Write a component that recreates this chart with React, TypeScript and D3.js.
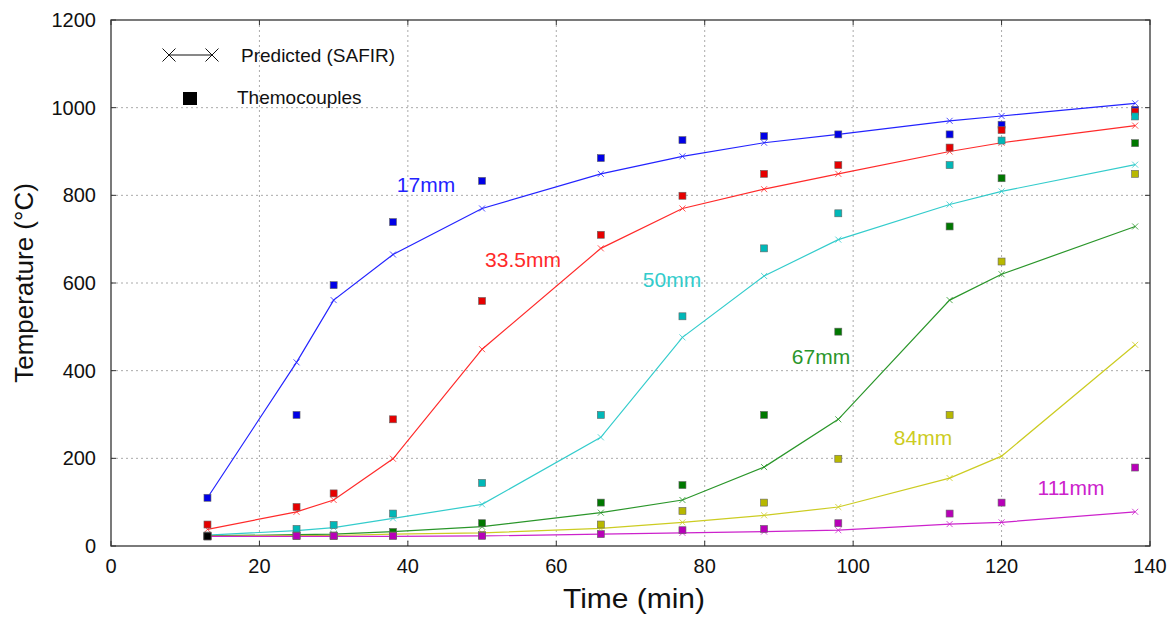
import React from "react";
import * as d3 from "d3";

const times = [13, 25, 30, 38, 50, 66, 77, 88, 98, 113, 120, 138];

const labels = ["17mm", "33.5mm", "50mm", "67mm", "84mm", "111mm"];

const predicted17 = [110, 419, 561, 665, 770, 849, 889, 920, 939, 970, 981, 1010];
const predicted33 = [38, 78, 105, 199, 449, 679, 770, 814, 849, 900, 920, 959];
const predicted50 = [25, 35, 42, 63, 95, 248, 476, 616, 699, 779, 809, 870];
const predicted67 = [23, 26, 27, 33, 44, 76, 105, 180, 289, 561, 620, 729];
const predicted84 = [22, 24, 24, 27, 30, 40, 54, 70, 89, 155, 205, 459];
const predicted111 = [22, 22, 22, 22, 23, 27, 30, 33, 36, 50, 54, 78];

const measured17 = [110, 299, 595, 739, 833, 885, 926, 935, 939, 939, 961, 995];
const measured33 = [49, 89, 120, 289, 559, 710, 799, 849, 869, 909, 949, 991];
const measured50 = [24, 39, 48, 74, 144, 299, 524, 679, 759, 869, 925, 980];
const measured67 = [23, 24, 24, 32, 52, 99, 139, 299, 489, 729, 839, 919];
const measured84 = [22, 23, 23, 24, 25, 49, 80, 99, 199, 299, 649, 849];
const measured111 = [22, 23, 23, 23, 23, 27, 36, 39, 52, 74, 99, 179];

const ambientTime = [13];
const ambientMeasured = [22];

const xTicks = [0, 20, 40, 60, 80, 100, 120, 140];
const yTicks = [0, 200, 400, 600, 800, 1000, 1200];

const lineColors = ["#2323ff", "#ff2a2a", "#33cccc", "#2a962a", "#cccc22", "#cc22cc"];
const squareColors = ["#0000e6", "#e60000", "#00b8b8", "#007800", "#b8b800", "#b800b8"];

const predictedSeries = [predicted17, predicted33, predicted50, predicted67, predicted84, predicted111];
const measuredSeries = [measured17, measured33, measured50, measured67, measured84, measured111];

const labelPos: [number, number][] = [
  [426, 192],
  [523, 267],
  [672, 287],
  [821, 364],
  [923, 445],
  [1071, 495],
];

const W = 1174;
const H = 619;
const left = 111;
const right = 1150;
const top = 20;
const bottom = 546;

export default function App() {
  const x = d3.scaleLinear().domain([0, 140]).range([left, right]);
  const y = d3.scaleLinear().domain([0, 1200]).range([bottom, top]);
  const line = d3
    .line<number>()
    .x((_, i) => x(times[i]))
    .y((d) => y(d));
  const font = "'Liberation Sans', Arial, sans-serif";
  const cross = (cx: number, cy: number, s: number, color: string, key: string, w = 1) => (
    <path
      key={key}
      d={`M${cx - s},${cy - s}L${cx + s},${cy + s}M${cx - s},${cy + s}L${cx + s},${cy - s}`}
      stroke={color}
      strokeWidth={w}
      fill="none"
    />
  );
  const sq = 7;
  return (
    <svg
      width={W}
      height={H}
      style={{ position: "absolute", left: 0, top: 0, background: "#fff" }}
      fontFamily={font}
    >
      {/* grid */}
      {xTicks.slice(1, -1).map((t) => (
        <line
          key={"gx" + t}
          x1={x(t)}
          x2={x(t)}
          y1={top}
          y2={bottom}
          stroke="#aaa"
          strokeWidth={1}
          strokeDasharray="2,3"
        />
      ))}
      {yTicks.slice(1, -1).map((t) => (
        <line
          key={"gy" + t}
          x1={left}
          x2={right}
          y1={y(t)}
          y2={y(t)}
          stroke="#aaa"
          strokeWidth={1}
          strokeDasharray="2,3"
        />
      ))}
      {/* ticks */}
      {xTicks.map((t) => (
        <g key={"tx" + t}>
          <line x1={x(t)} x2={x(t)} y1={bottom} y2={bottom - 5} stroke="#333" />
          <line x1={x(t)} x2={x(t)} y1={top} y2={top + 5} stroke="#333" />
          <text x={x(t)} y={bottom + 27} textAnchor="middle" fontSize={20} fill="#111">
            {t}
          </text>
        </g>
      ))}
      {yTicks.map((t) => (
        <g key={"ty" + t}>
          <line x1={left} x2={left + 5} y1={y(t)} y2={y(t)} stroke="#333" />
          <line x1={right} x2={right - 5} y1={y(t)} y2={y(t)} stroke="#333" />
          <text x={96} y={y(t) + 7} textAnchor="end" fontSize={20} fill="#111">
            {t}
          </text>
        </g>
      ))}
      <rect x={left} y={top} width={right - left} height={bottom - top} fill="none" stroke="#333" strokeWidth={1.3} />

      {/* predicted lines */}
      {predictedSeries.map((s, i) => (
        <g key={"p" + i}>
          <path d={line(s) || ""} fill="none" stroke={lineColors[i]} strokeWidth={1.2} />
          {s.map((v, j) => cross(x(times[j]), y(v), 3, lineColors[i], "c" + i + "-" + j, 0.8))}
        </g>
      ))}
      {/* measured squares */}
      {measuredSeries.map((s, i) => (
        <g key={"m" + i}>
          {s.map((v, j) => (
            <rect
              key={j}
              x={x(times[j]) - sq / 2}
              y={y(v) - sq / 2}
              width={sq}
              height={sq}
              fill={squareColors[i]}
              stroke="#666"
              strokeWidth={0.6}
            />
          ))}
        </g>
      ))}
      {ambientMeasured.map((v, j) => (
        <rect
          key={"amb" + j}
          x={x(ambientTime[j]) - sq / 2}
          y={y(v) - sq / 2}
          width={sq}
          height={sq}
          fill="#000"
          stroke="#444"
          strokeWidth={0.6}
        />
      ))}

      {/* series labels */}
      {labels.map((l, i) => (
        <text key={l} x={labelPos[i][0]} y={labelPos[i][1]} textAnchor="middle" fontSize={21} fill={lineColors[i]}>
          {l}
        </text>
      ))}

      {/* legend */}
      <line x1={169} x2={212} y1={55} y2={55} stroke="#111" strokeWidth={1} />
      {cross(169, 55, 6.5, "#111", "lc1", 1)}
      {cross(212, 55, 6.5, "#111", "lc2", 1)}
      <text x={241} y={62} fontSize={19} fill="#111">
        Predicted (SAFIR)
      </text>
      <rect x={183} y={92} width={14} height={13} fill="#000" />
      <text x={237} y={104} fontSize={19} fill="#111">
        Themocouples
      </text>

      {/* axis titles */}
      <text
        x={634}
        y={608}
        textAnchor="middle"
        fontSize={27}
        fill="#111"
        textLength={142}
        lengthAdjust="spacingAndGlyphs"
      >
        Time (min)
      </text>
      <text
        transform={`translate(33,${(top + bottom) / 2}) rotate(-90)`}
        textAnchor="middle"
        fontSize={26}
        fill="#111"
      >
        Temperature (°C)
      </text>
    </svg>
  );
}
